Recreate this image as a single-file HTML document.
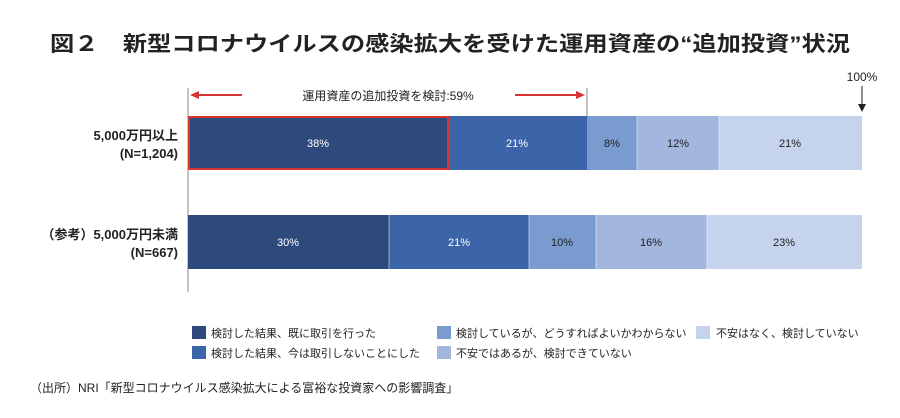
<!DOCTYPE html>
<html><head><meta charset="utf-8"><style>
body{margin:0;background:#fff;}
svg text{font-family:"Liberation Sans","Noto Sans CJK JP",sans-serif;}
</style></head><body>
<svg width="900" height="413" xmlns="http://www.w3.org/2000/svg">
<text x="50" y="51" font-size="21" font-weight="bold" fill="#222" textLength="800" lengthAdjust="spacingAndGlyphs">図２　新型コロナウイルスの感染拡大を受けた運用資産の“追加投資”状況</text>
<line x1="188" y1="88" x2="188" y2="292" stroke="#888" stroke-width="1"/>
<line x1="587" y1="88" x2="587" y2="116" stroke="#888" stroke-width="1"/>
<line x1="192" y1="95" x2="242" y2="95" stroke="#d83434" stroke-width="2"/>
<polygon points="190,95 199,91 199,99" fill="#d83434"/>
<line x1="515" y1="95" x2="580" y2="95" stroke="#d83434" stroke-width="2"/>
<polygon points="585,95 576,91 576,99" fill="#d83434"/>
<text x="388" y="100" text-anchor="middle" font-size="12" fill="#222">運用資産の追加投資を検討:59%</text>
<text x="862" y="81" text-anchor="middle" font-size="12" fill="#222">100%</text>
<line x1="862" y1="86" x2="862" y2="104" stroke="#222" stroke-width="1"/>
<polygon points="858,104 866,104 862,112" fill="#222"/>
<g font-size="11" text-anchor="middle">
<rect x="188" y="116" width="260" height="54" fill="#2e4a7d"/>
<rect x="448" y="116" width="139" height="54" fill="#3c64a8"/>
<rect x="587" y="116" width="50" height="54" fill="#7a9bd0"/>
<rect x="637" y="116" width="82" height="54" fill="#a2b6de"/>
<rect x="719" y="116" width="143" height="54" fill="#c6d3ec"/>
<line x1="637" y1="116" x2="637" y2="170" stroke="#fff" stroke-opacity=".5"/>
<line x1="719" y1="116" x2="719" y2="170" stroke="#fff" stroke-opacity=".5"/>
<rect x="189" y="117" width="259" height="52" fill="none" stroke="#d83434" stroke-width="2"/>
<text x="318" y="147" fill="#fff">38%</text>
<text x="517" y="147" fill="#fff">21%</text>
<text x="612" y="147" fill="#222">8%</text>
<text x="678" y="147" fill="#222">12%</text>
<text x="790" y="147" fill="#222">21%</text>
<rect x="188" y="215" width="201" height="54" fill="#2e4a7d"/>
<rect x="389" y="215" width="140" height="54" fill="#3c64a8"/>
<rect x="529" y="215" width="67" height="54" fill="#7a9bd0"/>
<rect x="596" y="215" width="111" height="54" fill="#a2b6de"/>
<rect x="707" y="215" width="155" height="54" fill="#c6d3ec"/>
<line x1="389" y1="215" x2="389" y2="269" stroke="#fff" stroke-opacity=".5"/>
<line x1="529" y1="215" x2="529" y2="269" stroke="#fff" stroke-opacity=".5"/>
<line x1="596" y1="215" x2="596" y2="269" stroke="#fff" stroke-opacity=".5"/>
<line x1="707" y1="215" x2="707" y2="269" stroke="#fff" stroke-opacity=".5"/>
<text x="288" y="246" fill="#fff">30%</text>
<text x="459" y="246" fill="#fff">21%</text>
<text x="562" y="246" fill="#222">10%</text>
<text x="651" y="246" fill="#222">16%</text>
<text x="784" y="246" fill="#222">23%</text>
</g>
<g font-size="13" font-weight="bold" fill="#222" text-anchor="end">
<text x="178" y="140">5,000万円以上</text>
<text x="178" y="158">(N=1,204)</text>
<text x="178" y="239">（参考）5,000万円未満</text>
<text x="178" y="257">(N=667)</text>
</g>
<g font-size="11" fill="#222">
<rect x="192" y="326" width="14" height="13" fill="#2e4a7d"/><text x="211" y="337">検討した結果、既に取引を行った</text>
<rect x="192" y="346" width="14" height="13" fill="#3c64a8"/><text x="211" y="357">検討した結果、今は取引しないことにした</text>
<rect x="437" y="326" width="14" height="13" fill="#7a9bd0"/><text x="456" y="337">検討しているが、どうすればよいかわからない</text>
<rect x="437" y="346" width="14" height="13" fill="#a2b6de"/><text x="456" y="357">不安ではあるが、検討できていない</text>
<rect x="696" y="326" width="14" height="13" fill="#c6d3ec"/><text x="716" y="337">不安はなく、検討していない</text>
</g>
<text x="30" y="392" font-size="12" fill="#222">（出所）NRI「新型コロナウイルス感染拡大による富裕な投資家への影響調査」</text>
</svg>
</body></html>
